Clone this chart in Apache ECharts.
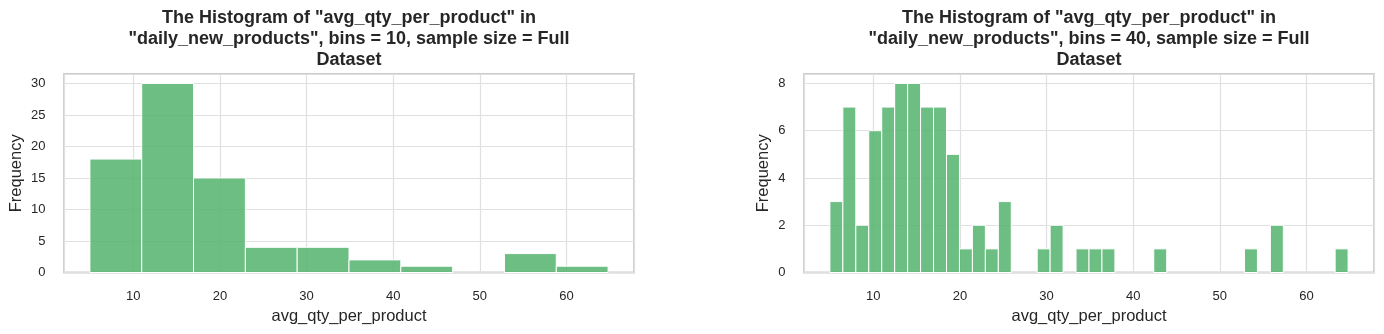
<!DOCTYPE html>
<html>
<head>
<meta charset="utf-8">
<script src="https://cdn.jsdelivr.net/npm/echarts@6/dist/echarts.min.js"></script>
<style>
  html, body { margin: 0; padding: 0; background: #ffffff; }
  #chart { width: 1384px; height: 334px; }
</style>
</head>
<body>
<div id="chart"></div>
<script>
// avg_qty_per_product: observed range of the column
const dataMin = 5.0;
const dataMax = 64.8;

// Frequencies per bin, 10 bins
const counts10 = [18, 30, 15, 4, 4, 2, 1, 0, 3, 1];
// Frequencies per bin, 40 bins
const counts40 = [
  3, 7, 2, 6, 7, 8, 8, 7, 7, 5,
  1, 2, 1, 3, 0, 0, 1, 2, 0, 1,
  1, 1, 0, 0, 0, 1, 0, 0, 0, 0,
  0, 0, 1, 0, 2, 0, 0, 0, 0, 1
];

const titles = [
  'The Histogram of "avg_qty_per_product" in\n"daily_new_products", bins = 10, sample size = Full\nDataset',
  'The Histogram of "avg_qty_per_product" in\n"daily_new_products", bins = 40, sample size = Full\nDataset'
];
const xName = 'avg_qty_per_product';
const yName = 'Frequency';

const FONT = '"Liberation Sans", Arial, Helvetica, sans-serif';
const TEXT = '#262626';
const BAR = 'rgba(82,179,109,0.85)';

// Turn bin counts into [left edge, right edge, count] rows
function binRows(counts) {
  const w = (dataMax - dataMin) / counts.length;
  return counts.map((c, i) => [dataMin + i * w, dataMin + (i + 1) * w, c]);
}

// x limits with a 5% margin on each side of the data range
const pad = (dataMax - dataMin) * 0.05;
const xLo = dataMin - pad;
const xHi = dataMax + pad;

function renderBin(params, api) {
  const count = api.value(2);
  if (!count) return null;
  const a = api.coord([api.value(0), count]);
  const b = api.coord([api.value(1), 0]);
  return {
    type: 'rect',
    shape: { x: a[0], y: a[1], width: b[0] - a[0], height: b[1] - a[1] },
    style: { fill: BAR, stroke: '#ffffff', lineWidth: 1 }
  };
}

// yGap: the y-axis title sits further out when tick labels are two digits wide
const panels = [
  { left: 64, counts: counts10, yMax: 31.5, yStep: 5, yGap: 39 },
  { left: 804, counts: counts40, yMax: 8.4, yStep: 2, yGap: 32 }
];

const option = {
  backgroundColor: '#ffffff',
  animation: false,
  textStyle: { fontFamily: FONT },
  title: panels.map((p, i) => ({
    text: titles[i],
    left: p.left + 285,
    top: 8,
    padding: 0,
    textAlign: 'center',
    textStyle: {
      fontFamily: FONT, fontSize: 18, fontWeight: 'bold',
      color: TEXT, lineHeight: 20.8
    }
  })),
  grid: panels.map(p => ({
    left: p.left, top: 74, width: 570, height: 198.5,
    show: true, borderColor: '#cccccc', borderWidth: 1.8,
    backgroundColor: 'transparent'
  })),
  xAxis: panels.map((p, i) => ({
    type: 'value', gridIndex: i, min: xLo, max: xHi, splitNumber: 6,
    name: xName, nameLocation: 'middle', nameGap: 35,
    nameTextStyle: { fontFamily: FONT, fontSize: 16.5, color: TEXT },
    axisLine: { show: false }, axisTick: { show: false },
    axisLabel: {
      fontFamily: FONT, fontSize: 13, color: TEXT, margin: 17.5,
      showMinLabel: false, showMaxLabel: false
    },
    splitLine: { show: true, lineStyle: { color: '#e0e0e0', width: 1.2 } }
  })),
  yAxis: panels.map((p, i) => ({
    type: 'value', gridIndex: i, min: 0, max: p.yMax, interval: p.yStep,
    name: yName, nameLocation: 'middle', nameGap: p.yGap,
    nameTextStyle: { fontFamily: FONT, fontSize: 16.5, color: TEXT },
    axisLine: { show: false }, axisTick: { show: false },
    axisLabel: {
      fontFamily: FONT, fontSize: 13, color: TEXT, margin: 18.5,
      showMaxLabel: false
    },
    splitLine: { show: true, lineStyle: { color: '#e0e0e0', width: 1.2 } }
  })),
  series: panels.map((p, i) => ({
    type: 'custom',
    xAxisIndex: i, yAxisIndex: i,
    renderItem: renderBin,
    encode: { x: [0, 1], y: 2 },
    data: binRows(p.counts),
    z: 2
  }))
};

const chart = echarts.init(document.getElementById('chart'), null, { renderer: 'canvas' });
chart.setOption(option);
</script>
</body>
</html>
